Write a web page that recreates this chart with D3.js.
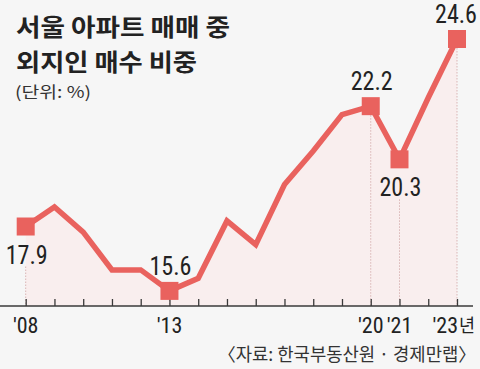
<!DOCTYPE html>
<html><head><meta charset="utf-8">
<script src="https://cdn.jsdelivr.net/npm/d3@7"></script>
<style>html,body{margin:0;padding:0;background:#f6f6f6;}svg{display:block;}</style>
</head><body>
<script>
const years = [2008,2009,2010,2011,2012,2013,2014,2015,2016,2017,2018,2019,2020,2021,2022,2023];
const values = [17.9,18.6,17.7,16.35,16.35,15.6,16.05,18.1,17.25,19.4,20.6,21.9,22.2,20.3,22.5,24.6];
const highlightYears = [2008,2013,2020,2021,2023];
const labelPos = {2008:"below",2013:"above",2020:"above",2021:"below",2023:"above"};
const tickLabels = [{y:2008,t:"'08"},{y:2013,t:"'13"},{y:2020,t:"'20"},{y:2021,t:"'21"}];
const lastTick = {y:2023,t:"'23",unit:"년"};
const titleLines = ["서울 아파트 매매 중","외지인 매수 비중"];
const unitText = "(단위: %)";
const sourceText = "〈자료: 한국부동산원 · 경제만랩〉";

const W=480,H=369, red="#e9625e";
const svg=d3.select("body").append("svg").attr("width",W).attr("height",H);
svg.append("rect").attr("width",W).attr("height",H).attr("fill","#f6f6f6");

const x=d3.scaleLinear().domain([2008,2023]).range([25.7,457]);
const y=d3.scaleLinear().domain([15.06,24.6]).range([306,39]);
const data=years.map((yr,i)=>({yr,v:values[i]}));

// area
svg.append("path").datum(data)
  .attr("d",d3.area().x(d=>x(d.yr)).y0(y(15.06)).y1(d=>y(d.v)))
  .attr("fill","#f9eeee");

// dotted drop lines
data.filter(d=>highlightYears.includes(d.yr)).forEach(d=>{
  const top = labelPos[d.yr]==="below" ? y(d.v)+40 : y(d.v);
  svg.append("line").attr("x1",x(d.yr)).attr("x2",x(d.yr)).attr("y1",top).attr("y2",y(15.06))
    .attr("stroke","#d9b5b5").attr("stroke-width",1).attr("stroke-dasharray","1.5,1.5");
});

// axis
svg.append("line").attr("x1",0).attr("x2",473).attr("y1",306).attr("y2",306).attr("stroke","#3a3a3a").attr("stroke-width",1.5);
const ax=d3.axisBottom(x).tickValues(years).tickSize(-7).tickFormat("");
const g=svg.append("g").attr("transform","translate(0,306)").call(ax);
g.select(".domain").remove();
g.selectAll(".tick line").attr("stroke","#3a3a3a").attr("stroke-width",1.3);

// line
svg.append("path").datum(data)
  .attr("d",d3.line().x(d=>x(d.yr)).y(d=>y(d.v)))
  .attr("fill","none").attr("stroke",red).attr("stroke-width",5.5).attr("stroke-linejoin","miter");

// markers
const ms=18;
svg.selectAll("rect.m").data(data.filter(d=>highlightYears.includes(d.yr))).enter().append("rect")
  .attr("x",d=>x(d.yr)-ms/2).attr("y",d=>y(d.v)-ms/2).attr("width",ms).attr("height",ms).attr("fill",red);

// value labels
const numFont="'Liberation Sans Narrow','Roboto Condensed','Liberation Sans',sans-serif";
svg.selectAll("text.v").data(data.filter(d=>highlightYears.includes(d.yr))).enter().append("text")
  .attr("x",d=>d.yr===2023 ? x(d.yr)-1 : x(d.yr)+1)
  .attr("y",d=>labelPos[d.yr]==="below"? y(d.v)+37 : y(d.v)-16)
  .attr("text-anchor","middle").attr("font-family",numFont).attr("font-size",25)
  .attr("fill","#222").attr("textLength",42).attr("lengthAdjust","spacingAndGlyphs")
  .text(d=>d.v.toFixed(1));

// tick labels
tickLabels.forEach(t=>{
  svg.append("text").attr("x",x(t.y)).attr("y",333).attr("text-anchor","middle")
    .attr("font-family",numFont).attr("font-size",22).attr("fill","#222").text(t.t);
});
svg.append("text").attr("x",x(lastTick.y)+1).attr("y",333).attr("text-anchor","end")
  .attr("font-family",numFont).attr("font-size",22).attr("fill","#222").text(lastTick.t);
svg.append("text").attr("x",x(lastTick.y)+2).attr("y",332).attr("font-family","'Noto Sans CJK KR',sans-serif")
  .attr("font-size",18).attr("fill","#222").attr("textLength",16).attr("lengthAdjust","spacingAndGlyphs").text(lastTick.unit);

// title
const kf="'Noto Sans CJK KR',sans-serif";
svg.append("text").attr("x",16).attr("y",35.5).attr("font-family",kf).attr("font-weight",700).attr("font-size",24)
  .attr("fill","#222").attr("textLength",214).attr("lengthAdjust","spacingAndGlyphs").text(titleLines[0]);
svg.append("text").attr("x",16).attr("y",70.5).attr("font-family",kf).attr("font-weight",700).attr("font-size",24)
  .attr("fill","#222").attr("textLength",181).attr("lengthAdjust","spacingAndGlyphs").text(titleLines[1]);
svg.append("text").attr("x",15).attr("y",98).attr("font-family",kf).attr("font-size",16)
  .attr("fill","#333").attr("textLength",76).attr("lengthAdjust","spacingAndGlyphs").text(unitText);

// source
svg.append("text").attr("x",476).attr("y",361).attr("text-anchor","end").attr("font-family",kf).attr("font-size",18)
  .attr("fill","#333").attr("textLength",258).attr("lengthAdjust","spacingAndGlyphs").text(sourceText);
</script>
</body></html>
